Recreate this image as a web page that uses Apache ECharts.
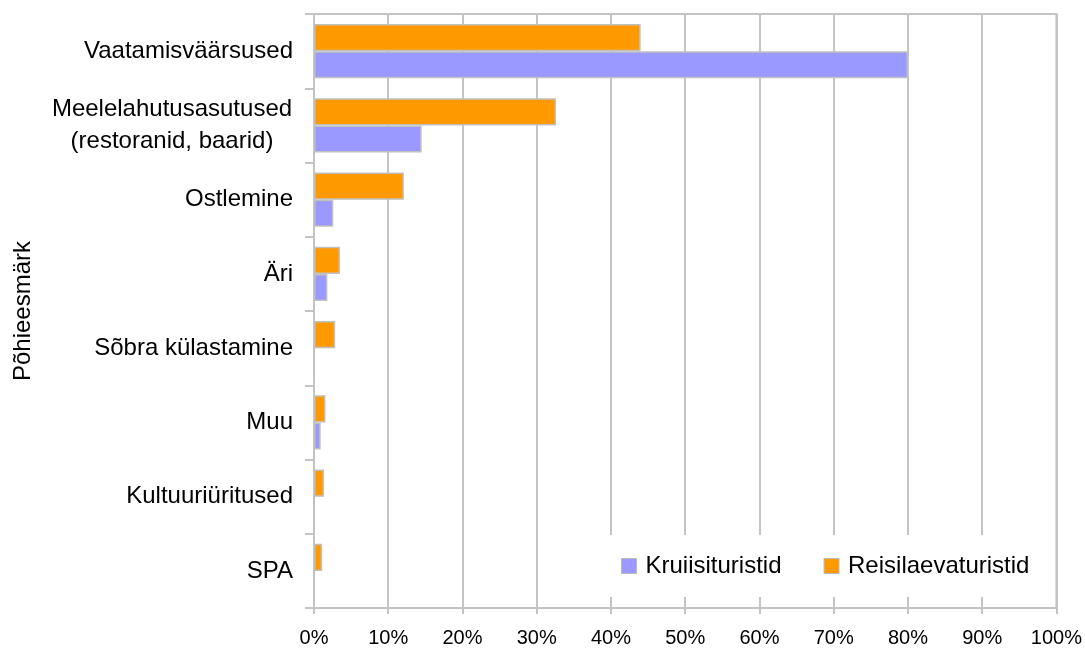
<!DOCTYPE html>
<html>
<head>
<meta charset="utf-8">
<script src="https://cdn.jsdelivr.net/npm/echarts@6/dist/echarts.min.js"></script>
<style>
  html, body { margin: 0; padding: 0; background: #fff; }
  #chart { width: 1085px; height: 648px; }
</style>
</head>
<body>
<div id="chart"></div>
<script>
// andmed
var categories = ['Vaatamisväärsused', 'Meelelahutusasutused\n(restoranid, baarid)', 'Ostlemine', 'Äri',
  'Sõbra külastamine', 'Muu', 'Kultuuriüritused', 'SPA']
var kruiisituristid = [80, 14.5, 2.6, 1.8, 0, 0.9, 0, 0]
var reisilaevaturistid = [44, 32.6, 12.1, 3.5, 2.85, 1.55, 1.35, 1.1]
var xTicks = [0, 10, 20, 30, 40, 50, 60, 70, 80, 90, 100]

var font = "'Liberation Sans', Arial, sans-serif"
var lineCol = '#c4c4c4'

var myChart = echarts.init(document.getElementById('chart'))
var option = {
  backgroundColor: '#fff',
  textStyle: { fontFamily: font },
  grid: {
    left: 314, top: 14, right: 22, bottom: 39,
    show: true, borderColor: lineCol, borderWidth: 2
  },
  legend: {
    data: ['Kruiisituristid', 'Reisilaevaturistid'],
    left: 602, top: 535,
    padding: [19, 18, 19, 19],
    backgroundColor: '#fff',
    itemWidth: 15, itemHeight: 15, itemGap: 42,
    icon: 'rect',
    itemStyle: { borderColor: '#bbb', borderWidth: 1 },
    textStyle: { fontSize: 24, color: '#000', fontFamily: font, padding: [0, 0, 0, 4] }
  },
  xAxis: {
    type: 'value',
    min: xTicks[0], max: xTicks[xTicks.length - 1], interval: 10,
    axisLine: { show: true, lineStyle: { color: lineCol, width: 2 } },
    axisTick: { show: true, length: 6, lineStyle: { color: lineCol, width: 2 } },
    splitLine: { show: true, lineStyle: { color: lineCol, width: 2 } },
    axisLabel: { formatter: '{value}%', fontSize: 20, color: '#000', margin: 20, fontFamily: font }
  },
  yAxis: {
    type: 'category',
    data: categories,
    inverse: true,
    name: 'Põhieesmärk',
    nameLocation: 'middle',
    nameRotate: 90,
    nameGap: 279,
    nameTextStyle: { fontSize: 24, color: '#000', fontFamily: font },
    axisLine: { show: true, lineStyle: { color: lineCol, width: 2 } },
    axisTick: { show: true, length: 9, lineStyle: { color: lineCol, width: 2 } },
    splitLine: { show: false },
    axisLabel: {
      fontSize: 24, color: '#000', margin: 21, fontFamily: font,
      formatter: function (v) {
        if (v.indexOf('\n') < 0) return v
        return v.split('\n').map(function (s) { return '{c|' + s + '}' }).join('\n')
      },
      rich: {
        c: { fontSize: 24, color: '#000', fontFamily: font, width: 242, align: 'center', lineHeight: 32 }
      }
    }
  },
  // oranž enne, et see oleks kategooria sees üleval
  series: [
    {
      name: 'Reisilaevaturistid',
      type: 'bar',
      data: reisilaevaturistid,
      barGap: '0%',
      barCategoryGap: '27%',
      itemStyle: { color: '#ff9900', borderColor: '#c0c0c0', borderWidth: 1.5 }
    },
    {
      name: 'Kruiisituristid',
      type: 'bar',
      data: kruiisituristid,
      barGap: '0%',
      barCategoryGap: '27%',
      itemStyle: { color: '#9999ff', borderColor: '#c0c0c0', borderWidth: 1.5 }
    }
  ]
}
myChart.setOption(option)
</script>
</body>
</html>
